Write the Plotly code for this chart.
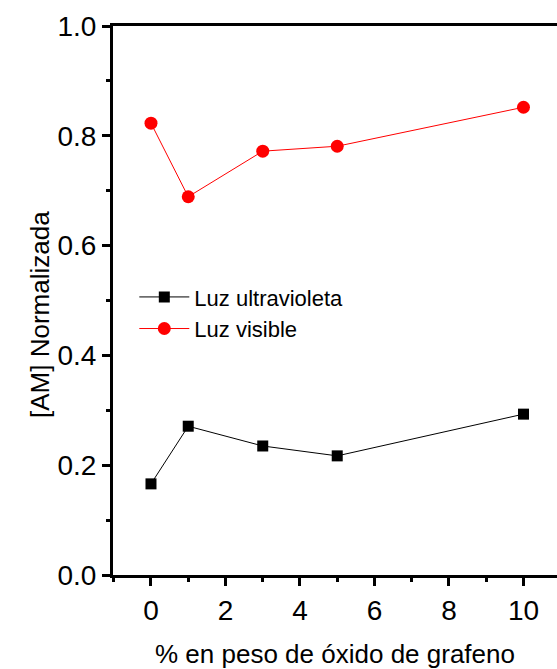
import plotly.graph_objects as go

# Graphene oxide loading (wt %) and normalized methylene-blue concentration
go_wt = [0, 1, 3, 5, 10]
am_uv = [0.166, 0.271, 0.235, 0.217, 0.293]
am_vis = [0.823, 0.689, 0.772, 0.781, 0.852]

series_names = ["Luz ultravioleta", "Luz visible"]
x_ticks = [0, 2, 4, 6, 8, 10]
y_ticks = [0.0, 0.2, 0.4, 0.6, 0.8, 1.0]

font_family = "Liberation Sans, Arial, sans-serif"

fig = go.Figure()
fig.add_trace(go.Scatter(
    x=go_wt, y=am_uv, name=series_names[0], mode="lines+markers",
    line=dict(color="black", width=1),
    marker=dict(symbol="square", size=11, color="black"),
))
fig.add_trace(go.Scatter(
    x=go_wt, y=am_vis, name=series_names[1], mode="lines+markers",
    line=dict(color="red", width=1),
    marker=dict(symbol="circle", size=13, color="red"),
))

axis_common = dict(
    showgrid=False, zeroline=False, showline=True, linecolor="black",
    linewidth=3, ticks="outside", ticklen=8, tickwidth=3, tickcolor="black",
    tickfont=dict(family=font_family, size=28, color="black"),
)

fig.update_layout(
    width=557, height=669,
    margin=dict(l=113, r=0, t=26, b=94),
    paper_bgcolor="white", plot_bgcolor="white",
    font=dict(family=font_family, color="black"),
    showlegend=True,
    legend=dict(
        x=0.048, y=0.477, xanchor="left", yanchor="middle",
        bgcolor="rgba(0,0,0,0)", font=dict(family=font_family, size=22),
        itemwidth=50, tracegroupgap=0,
    ),
    xaxis=dict(
        **axis_common, range=[-1.02, 10.9], tickvals=x_ticks,
        ticktext=[str(v) for v in x_ticks], mirror=True,
        minor=dict(ticks="outside", ticklen=4, tickwidth=3, tickcolor="black", dtick=1),
        title=dict(text="% en peso de óxido de grafeno", standoff=24,
                   font=dict(family=font_family, size=26)),
    ),
    yaxis=dict(
        **axis_common, range=[0, 1.0], tickvals=y_ticks,
        ticktext=[f"{v:.1f}" for v in y_ticks],
        minor=dict(ticks="outside", ticklen=4, tickwidth=3, tickcolor="black", dtick=0.1),
    ),
    annotations=[dict(
        text="[AM] Normalizada", textangle=-90, showarrow=False,
        xref="paper", yref="paper", x=-0.1644, y=0.4736,
        xanchor="center", yanchor="middle",
        font=dict(family=font_family, size=26, color="black"),
    )],
)

fig.write_html("out.html")
